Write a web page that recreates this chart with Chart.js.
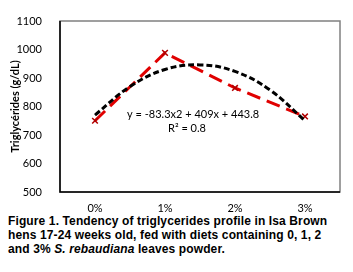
<!DOCTYPE html>
<html>
<head>
<meta charset="utf-8">
<script src="https://cdn.jsdelivr.net/npm/chart.js@4"></script>
<style>
  body { margin: 0; background: #fff; width: 353px; height: 272px; overflow: hidden; }
  #wrap { position: relative; width: 353px; height: 212px; }
  #caption {
    font-family: "Liberation Sans", Arial, sans-serif;
    font-weight: bold; font-size: 12px; line-height: 13.8px; letter-spacing: 0.12px;
    margin: 3px 0 0 8px; color: #000; white-space: nowrap;
  }
</style>
</head>
<body>
<div id="wrap"><canvas id="trigChart"></canvas></div>
<div id="caption">Figure 1. Tendency of triglycerides profile in Isa Brown<br>hens 17-24 weeks old, fed with diets containing 0, 1, 2<br>and 3% <i>S. rebaudiana</i> leaves powder.</div>
<script>
const doses = ['0%', '1%', '2%', '3%'];
const triglycerides = [750, 988, 865, 765];
// polynomial trendline at half-step positions
const trendX = [0, 0.5, 1, 1.5, 2, 2.5, 3];
const trendY = [770, 870, 930, 946, 923, 858, 750];
const yTicks = [500, 1100, 100];

document.addEventListener('DOMContentLoaded', () => {
    const ctx = document.getElementById('trigChart').getContext('2d');

    const frame = {
        id: 'frame',
        beforeDatasetsDraw(chart) {
            const a = chart.chartArea;
            const c = chart.ctx;
            c.save();
            c.strokeStyle = '#808080';
            c.lineWidth = 1.5;
            c.strokeRect(a.left, a.top, a.right - a.left, a.bottom - a.top);
            c.strokeStyle = '#000';
            c.beginPath();
            c.moveTo(a.left, a.top);
            c.lineTo(a.left, a.bottom);
            c.lineTo(a.right, a.bottom);
            c.stroke();
            c.restore();
        },
        afterDatasetsDraw(chart) {
            const c = chart.ctx;
            c.save();
            c.fillStyle = '#000';
            c.font = '11px Lato, "Open Sans", sans-serif';
            c.textBaseline = 'middle';
            c.fillText('y = -83.3x2 + 409x + 443.8', 127, 114);
            c.fillText('R² = 0.8', 168, 128);
            c.restore();
        }
    };

    new Chart(ctx, {
        type: 'line',
        data: {
            datasets: [
                {
                    label: 'Trend',
                    data: trendX.map((x, i) => ({ x, y: trendY[i] })),
                    borderColor: '#000',
                    borderWidth: 3,
                    borderDash: [6, 3],
                    pointRadius: 0,
                    tension: 0.4,
                    fill: false
                },
                {
                    label: 'Triglycerides',
                    data: triglycerides.map((v, i) => ({ x: i, y: v })),
                    borderColor: '#e00000',
                    borderWidth: 3,
                    borderDash: [14, 7],
                    pointStyle: 'crossRot',
                    pointRadius: 4,
                    pointBorderWidth: 1.5,
                    pointBorderColor: '#b00000',
                    tension: 0,
                    fill: false
                }
            ]
        },
        options: {
            responsive: true,
            maintainAspectRatio: false,
            animation: false,
            layout: { padding: { top: 21, right: 13, left: 0, bottom: 0 } },
            plugins: { legend: { display: false }, tooltip: { enabled: false } },
            scales: {
                x: {
                    type: 'linear',
                    min: -0.5, max: 3.5,
                    grid: { display: false, drawTicks: false },
                    border: { display: false },
                    afterBuildTicks: s => { s.ticks = doses.map((d, i) => ({ value: i })); },
                    afterFit: s => { s.height = 20; },
                    ticks: {
                        callback: v => doses[v],
                        color: '#000',
                        padding: 10,
                        font: { family: 'Lato, "Open Sans", sans-serif', size: 11 }
                    }
                },
                y: {
                    min: yTicks[0], max: yTicks[1],
                    grid: { display: false },
                    border: { display: false },
                    afterFit: s => { s.width = 60; },
                    title: {
                        display: true,
                        text: 'Triglycérides (g/dL)',
                        color: '#000',
                        padding: { top: 9, bottom: 0 },
                        font: { family: 'Lato, "Open Sans", sans-serif', size: 11, weight: 'bold' }
                    },
                    ticks: {
                        stepSize: yTicks[2],
                        callback: v => String(v),
                        color: '#000',
                        padding: 10,
                        font: { family: 'Lato, "Open Sans", sans-serif', size: 11 }
                    }
                }
            }
        },
        plugins: [frame]
    });
});
</script>
</body>
</html>
